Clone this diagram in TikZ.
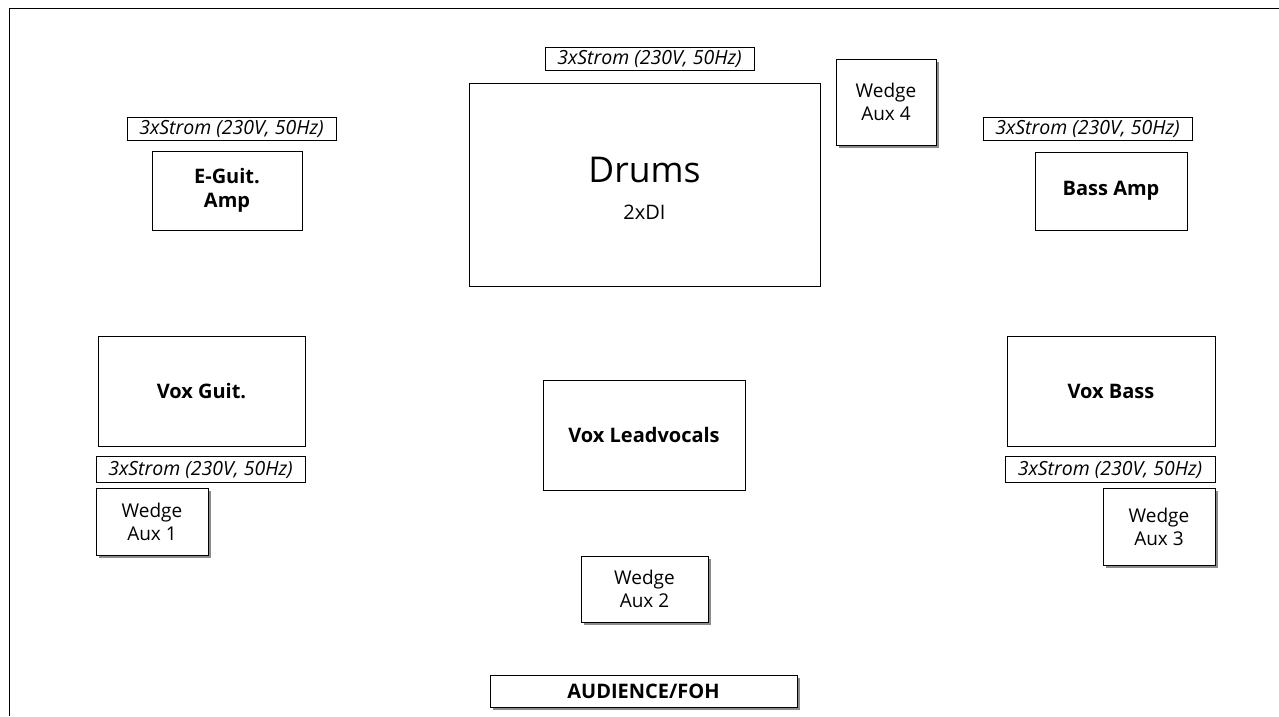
\documentclass[tikz,border=0pt]{standalone}
\usepackage{fontspec}
\setmainfont{Open Sans}
\usetikzlibrary{shadows}
\begin{document}
\begin{tikzpicture}[x=1pt,y=-1pt,
  box/.style={draw=black,line width=0.8pt,fill=white,inner sep=0pt,align=center,anchor=center},
  stromlbl/.style={box,font=\fontsize{19.5}{21}\selectfont\itshape,minimum width=209pt,minimum height=23pt},
  bboxlbl/.style={box,font=\fontsize{20}{24}\selectfont\bfseries},
  wedge/.style={box,font=\fontsize{19}{23}\selectfont,drop shadow={shadow xshift=2.5pt,shadow yshift=-2.5pt,fill=black!45,opacity=1}}
]
\useasboundingbox (0,0) rectangle (1279,716);
\draw[line width=0.8pt] (1279,8) -- (9,8) -- (9,716);

% Drums
\node[stromlbl] (sd) at (649.5,58.5) {3xStrom (230V, 50Hz)};
\node[box,minimum width=351pt,minimum height=203pt] (drums) at (644.5,184.5) {};
\node[font=\fontsize{35.5}{40}\selectfont] (drt) at (644.5,170) {Drums};
\node[font=\fontsize{20}{22}\selectfont] (drsub) at (644.5,212) {2xDI};

% Wedge Aux 4
\node[wedge,minimum width=100pt,minimum height=86pt] (w4) at (886,102) {Wedge\\Aux 4};

% E-Guit
\node[stromlbl] (sg) at (231.5,128.5) {3xStrom (230V, 50Hz)};
\node[bboxlbl,minimum width=150pt,minimum height=79pt] (eg) at (227,190.5) {E-Guit.\\Amp};

% Bass Amp
\node[stromlbl] (sb) at (1087.5,128.5) {3xStrom (230V, 50Hz)};
\node[bboxlbl,minimum width=152pt,minimum height=78pt] (ba) at (1111,191) {Bass Amp};

% Vox
\node[bboxlbl,minimum width=207pt,minimum height=110pt] (vg) at (201.5,391) {Vox Guit.};
\node[bboxlbl,minimum width=202pt,minimum height=110pt] (vl) at (644,435) {Vox Leadvocals};
\node[bboxlbl,minimum width=208pt,minimum height=110pt] (vb) at (1111,391) {Vox Bass};

% Strom lower
\node[stromlbl,minimum width=209pt,minimum height=26pt] (sl) at (200.5,469.5) {3xStrom (230V, 50Hz)};
\node[stromlbl,minimum width=210pt,minimum height=26pt] (sr) at (1110,469.5) {3xStrom (230V, 50Hz)};

% Wedges
\node[wedge,minimum width=112pt,minimum height=67pt] (w1) at (152,521.5) {Wedge\\Aux 1};
\node[wedge,minimum width=112pt,minimum height=77pt] (w3) at (1159,526.5) {Wedge\\Aux 3};
\node[wedge,minimum width=127pt,minimum height=66pt] (w2) at (644.5,589) {Wedge\\Aux 2};

% Audience
\node[box,font=\fontsize{20}{22}\selectfont\bfseries,minimum width=307pt,minimum height=32pt,drop shadow={shadow xshift=2.5pt,shadow yshift=-2.5pt,fill=black!45,opacity=1}] (foh) at (643.5,691) {AUDIENCE/FOH};
\end{tikzpicture}
\end{document}
